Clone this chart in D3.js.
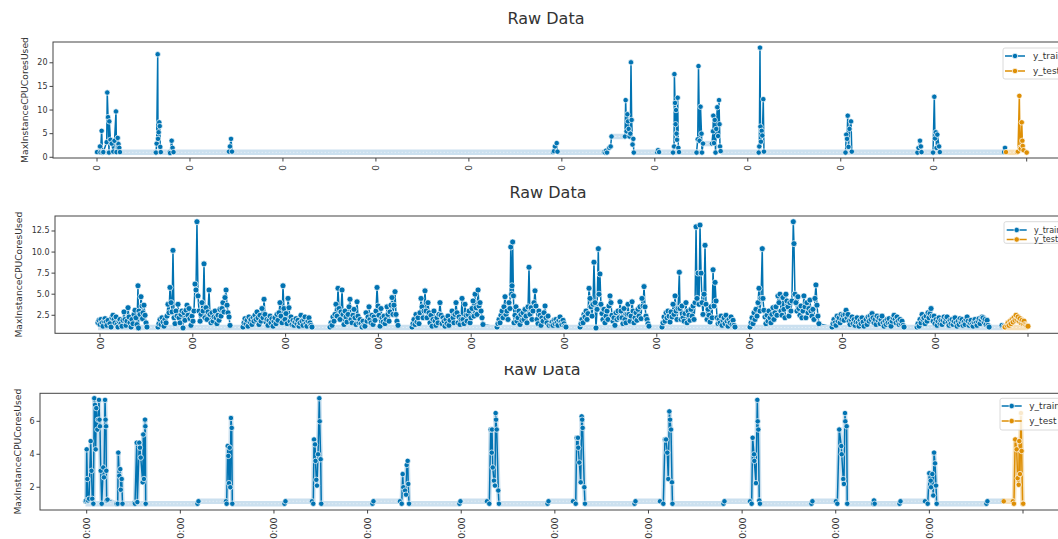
<!DOCTYPE html>
<html><head><meta charset="utf-8">
<script src="https://cdn.jsdelivr.net/npm/d3@7"></script>
<style>
body{margin:0;background:#fff}
svg{display:block}
text{font-family:"DejaVu Sans",sans-serif;fill:#333}
</style>
</head><body>
<svg id="c" width="1058" height="539"></svg>
<script>
// ---------- DATA (x = hour index, y = MaxInstanceCPUCoresUsed) ----------
const tickHours = [0,96,192,288,384,480,576,672,768,864,960];
const xLabels1 = ["0","0","0","0","0","0","0","0","0","0",""];
const xLabels2 = ["00","00","00","00","00","00","00","00","00","00",""];
const xLabels3 = ["00:00","00:00","00:00","00:00","00:00","00:00","00:00","00:00","00:00","00:00",""];
const yTicks1 = [0,5,10,15,20];
const yTicks2 = [2.5,5,7.5,10,12.5];
const yTicks3 = [2,4,6];
const seriesNames = ["y_train","y_test"];

// Panel 1
const train1 = [[0,1.1],[3.1,2.3],[3.6,1.05],[4.8,5.6],[5.7,1.0],[6.5,1.1],[10.0,3.2],[10.6,13.7],[11.4,8.5],[12.4,1.0],[12.7,7.6],[13.9,3.7],[15.2,2.9],[16.8,1.2],[18.1,3.5],[19.6,9.7],[20.1,1.1],[21.4,4.1],[22.2,2.8],[23.0,2.0],[23.7,1.1],
[60.4,1.1],[60.9,1.0],[61.6,2.9],[62.7,21.8],[63.0,3.9],[63.7,5.3],[64.3,7.4],[64.8,6.6],[65.3,2.2],[65.9,1.1],
[74.9,1.1],[75.4,0.9],[77.1,3.5],[78.0,2.0],[79.0,1.1],
[136.3,1.2],[137.3,2.3],[138.4,3.9],[139.4,1.2],
[470.9,1.1],[471.9,1.3],[472.9,2.3],[474.7,3.0],[475.5,1.2],
[523.5,1.1],[524.6,1.0],[525.6,1.4],[526.6,1.0],[529.0,2.0],[530.4,2.3],[531.3,4.4],[545.2,4.4],[545.9,12.1],[546.8,5.5],[547.6,9.1],[548.3,7.6],[549.0,6.0],[549.9,4.4],[550.7,5.0],[551.4,20.1],[552.1,7.9],[553.0,2.7],[553.8,3.9],[554.3,1.0],
[578.3,1.1],[579.3,1.5],[580.4,1.1],
[594.8,1.0],[595.9,2.3],[596.2,17.6],[596.9,11.5],[597.4,7.0],[597.9,10.0],[598.4,5.0],[598.9,3.7],[599.6,12.6],[600.3,2.0],[601.0,1.1],
[619.1,1.0],[620.3,3.8],[621.1,19.3],[622.2,3.5],[623.2,10.7],[624.2,5.0],[624.7,1.0],[625.8,2.9],[635.0,2.9],[636.1,5.5],[636.4,8.8],[637.1,3.0],[637.9,7.9],[638.7,1.0],[639.4,6.0],[640.5,10.6],[641.3,4.5],[642.3,12.1],[642.8,7.0],[643.3,2.3],[644.0,1.3],
[683.3,1.0],[683.9,2.3],[684.6,23.2],[685.1,6.5],[685.6,3.3],[686.4,5.6],[687.0,4.6],[688.0,12.3],[688.7,1.2],
[772.9,1.0],[773.7,4.8],[774.5,3.9],[775.2,8.8],[776.0,2.2],[777.0,6.0],[778.6,7.6],[779.4,1.2],
[847.2,1.0],[848.3,2.0],[849.8,3.5],[850.7,2.3],[851.4,1.1],
[863.3,1.0],[864.6,12.8],[865.3,4.0],[866.1,5.3],[866.9,2.0],[867.7,4.8],[869.5,2.3],[870.3,1.1],
[936.6,1.1],[937.6,2.0]];
const test1 = [[938.6,1.1],[950.0,1.1],[951.0,1.2],[952.4,13.0],[953.1,2.0],[953.8,1.8],[954.9,7.4],[955.5,3.5],[955.9,2.4],[956.7,1.5],[960.0,1.0]];
const base1Train = [[0,470.9,1.05],[475.5,529.0,1.05],[531.3,545.2,4.4],[554.3,624.7,1.05],[625.8,635.0,2.9],[644.0,937.0,1.05]];
const base1Test = [[938.6,951.0,1.05]];

// Panel 2
const train2 = [[-2.1,1.6],[-1.0,1.9],[0,1.4],[1.0,2.0],[2.1,1.6],[3.1,1.2],[4.1,1.8],[5.2,2.1],[6.2,1.7],[7.2,1.3],[8.3,1.9],[10.3,1.5],[11.4,1.1],[12.4,2.2],[13.4,2.5],[14.5,2.0],[15.5,1.6],[16.6,2.3],[17.6,1.4],[18.6,1.1],[19.7,1.8],[20.7,2.0],[21.7,1.5],[22.8,1.2],[23.8,1.9],[24.8,2.9],[25.9,2.0],[26.9,1.3],[27.9,1.8],[29.0,3.4],[30.0,2.3],[31.0,1.6],[32.1,1.1],[33.1,2.0],[34.1,1.5],[35.2,2.6],[36.2,3.1],[37.2,2.2],[38.3,1.4],[39.3,6.0],[39.8,1.0],[40.3,3.0],[41.4,2.6],[42.4,4.7],[43.4,3.6],[44.0,2.1],[44.5,2.8],[45.5,3.7],[46.6,2.5],[47.6,1.6],[48.6,1.1],
[60.0,1.1],[61.0,1.5],[62.1,2.0],[63.1,1.4],[64.1,2.2],[65.2,1.7],[66.2,1.2],[67.2,2.0],[68.3,1.6],[69.3,2.4],[70.3,3.8],[71.4,2.8],[72.4,5.8],[73.5,4.0],[74.5,2.9],[75.5,10.2],[76.6,2.2],[77.6,1.5],[78.6,3.0],[79.7,2.4],[80.7,3.8],[81.7,2.2],[82.8,1.6],[83.8,2.6],[84.8,3.0],[85.9,1.0],[86.9,2.8],[87.9,1.9],[89.0,3.1],[90.0,3.7],[91.0,2.5],[92.1,3.3],[93.1,2.1],[94.1,1.3],[95.2,2.4],[96.2,1.8],[97.2,3.0],[98.3,6.2],[99.3,5.5],[100.3,13.6],[101.4,4.8],[102.4,3.0],[103.5,1.8],[104.5,2.6],[105.5,4.0],[106.6,3.0],[107.6,8.6],[108.6,2.2],[109.7,3.4],[110.7,2.0],[111.7,2.9],[112.8,5.5],[113.8,2.6],[114.8,1.6],[115.9,2.8],[116.9,1.8],[117.9,2.3],[119.0,3.0],[120.0,2.2],[121.0,1.5],[122.1,2.5],[123.1,1.9],[124.1,3.2],[125.2,2.4],[126.2,3.3],[127.2,4.0],[128.3,2.9],[129.3,4.6],[130.4,5.5],[131.4,3.7],[132.4,2.8],[133.5,2.3],[134.5,1.3],
[147.9,1.1],[149.0,1.6],[150.0,2.1],[151.0,1.5],[152.1,1.9],[153.1,1.2],[154.1,2.3],[155.2,1.7],[156.2,2.0],[157.2,1.4],[158.3,2.2],[159.3,1.8],[160.3,2.5],[161.4,2.0],[162.4,2.9],[163.5,2.2],[164.5,1.4],[165.5,2.5],[166.6,1.8],[167.6,3.3],[168.6,2.2],[169.7,4.4],[170.7,2.6],[171.7,1.7],[172.8,2.0],[173.8,1.3],[174.8,1.9],[175.9,2.4],[176.9,1.6],[177.9,2.1],[179.0,1.2],[180.0,1.8],[181.0,2.2],[182.1,1.5],[183.1,2.6],[184.1,1.9],[185.2,2.8],[186.2,4.0],[187.2,2.4],[188.3,1.6],[189.3,6.0],[190.3,3.3],[191.4,2.0],[192.4,2.7],[193.5,1.5],[194.5,4.5],[195.5,3.4],[196.6,1.8],[197.6,2.3],[198.6,1.4],[199.7,1.9],[200.7,1.3],[201.7,1.7],[202.8,2.1],[203.8,1.5],[204.8,1.9],[205.9,1.2],[206.9,1.6],[207.9,2.5],[209.0,1.8],[210.0,1.3],[211.0,2.0],[212.1,2.3],[213.1,1.5],[214.1,1.2],[215.2,1.8],[216.2,2.2],[217.2,1.6],[218.3,1.3],[219.3,1.1],
[237.9,1.1],[239.0,1.6],[240.0,1.3],[241.0,2.3],[242.1,1.8],[243.1,2.6],[244.1,3.8],[245.2,2.4],[246.2,5.7],[247.3,3.3],[248.3,2.0],[249.3,2.9],[250.4,5.5],[251.4,2.6],[252.4,1.4],[253.5,3.0],[254.5,2.3],[255.5,1.7],[256.6,2.6],[257.6,3.5],[258.6,4.4],[259.7,2.0],[260.7,1.6],[261.7,2.5],[262.8,3.2],[263.8,2.2],[264.8,1.4],[265.9,4.1],[266.9,2.4],[267.9,1.6],[269.0,2.0],[270.0,1.5],[271.1,1.1],[272.1,1.8],[273.1,1.3],[274.1,1.2],[275.2,2.8],[276.2,1.8],[277.3,2.3],[278.3,3.5],[279.3,2.0],[280.3,1.6],[281.4,2.5],[282.4,1.4],[283.4,2.3],[284.5,1.9],[285.5,3.0],[286.6,5.8],[287.6,3.6],[288.6,2.5],[289.7,1.2],[290.7,3.3],[291.7,2.2],[292.8,1.7],[293.8,2.4],[294.8,1.5],[295.9,2.0],[296.9,3.5],[297.9,2.6],[299.0,1.8],[300.0,2.9],[301.0,3.7],[302.1,4.6],[303.1,2.6],[304.1,3.7],[305.2,5.3],[306.2,2.6],[307.2,1.8],[308.3,1.3],
[322.8,1.1],[323.8,1.5],[324.8,2.0],[325.9,1.4],[326.9,2.6],[327.9,1.7],[329.0,2.2],[330.0,1.5],[331.0,2.8],[332.1,4.5],[333.1,3.5],[334.2,2.2],[335.2,3.0],[336.2,5.4],[337.3,3.0],[338.3,2.2],[339.3,4.0],[340.4,2.8],[341.4,1.6],[342.4,2.5],[343.5,1.2],[344.5,2.0],[345.5,3.0],[346.6,1.8],[347.6,1.3],[348.6,2.2],[349.7,1.6],[350.7,2.6],[351.7,4.0],[352.8,2.5],[353.8,1.5],[354.8,2.2],[355.9,1.8],[356.9,1.2],[357.9,2.0],[359.0,1.5],[360.0,2.4],[361.0,1.3],[362.1,1.9],[364.2,3.0],[365.2,2.2],[366.2,1.6],[367.3,2.6],[368.3,4.0],[369.3,2.8],[370.4,1.6],[371.4,2.3],[372.4,1.4],[373.5,2.0],[374.5,4.5],[375.5,2.0],[376.6,1.5],[377.6,3.8],[378.7,2.5],[379.7,1.8],[380.7,2.6],[381.8,3.0],[382.8,1.6],[383.8,2.2],[384.9,3.3],[385.9,4.2],[386.9,2.4],[388.0,5.0],[389.0,3.4],[390.0,2.6],[391.1,5.5],[392.1,3.6],[393.1,4.0],[394.2,3.0],[395.2,2.2],[396.2,1.4],
[410.7,1.1],[411.7,1.5],[412.8,2.0],[413.8,1.6],[414.8,2.5],[415.9,3.0],[416.9,2.2],[417.9,3.5],[419.0,4.7],[420.0,2.6],[421.0,3.0],[422.1,2.0],[423.1,4.0],[424.1,3.3],[424.9,10.6],[425.7,5.0],[426.2,6.0],[426.9,11.2],[427.7,4.8],[428.3,1.6],[429.3,2.5],[430.3,3.5],[431.3,1.8],[432.4,2.2],[433.4,3.0],[434.5,1.4],[435.5,2.6],[436.5,1.9],[437.6,2.8],[438.6,2.0],[439.7,3.2],[440.7,2.4],[441.7,1.6],[442.8,3.5],[443.8,8.2],[444.8,2.6],[445.9,3.4],[446.9,2.0],[447.9,3.0],[449.0,4.0],[450.0,5.4],[451.0,3.6],[452.1,2.0],[453.1,1.5],[454.1,3.0],[455.2,2.5],[456.2,1.3],[457.2,2.2],[458.3,1.8],[459.3,2.8],[460.4,3.6],[461.4,2.2],[462.4,1.6],[463.5,2.4],[464.5,1.3],[466.6,1.4],[467.6,1.7],[468.6,1.3],[469.7,1.9],[470.7,1.5],[471.7,2.0],[472.8,1.6],[473.8,1.3],[474.8,1.9],[475.9,2.3],[476.9,1.7],[477.9,1.4],[479.0,1.9],[480.0,1.5],[481.0,1.2],[482.1,1.1],
[496.6,1.1],[497.6,1.5],[498.6,2.0],[499.7,1.6],[500.7,2.6],[501.7,2.3],[502.8,3.0],[503.8,2.0],[504.8,2.7],[505.9,5.7],[506.9,4.5],[507.9,3.5],[509.0,2.4],[510.0,3.8],[511.0,8.8],[512.1,4.0],[513.1,1.0],[514.2,3.2],[515.5,10.4],[516.2,5.0],[517.2,7.4],[518.2,3.8],[519.3,2.7],[520.3,2.0],[521.4,3.2],[522.4,1.6],[523.4,2.4],[524.5,3.0],[525.5,2.0],[526.5,3.6],[527.6,4.8],[528.6,4.0],[529.6,2.5],[530.7,1.8],[531.7,2.2],[532.7,1.3],[533.8,2.8],[534.8,2.0],[535.9,3.0],[536.9,2.2],[537.9,4.1],[539.0,3.0],[540.0,2.2],[541.0,1.5],[542.1,3.3],[543.1,2.0],[544.1,1.6],[545.2,2.6],[546.2,3.8],[547.2,2.6],[548.3,1.8],[549.3,2.4],[550.4,4.1],[551.4,3.0],[552.4,1.6],[553.5,2.2],[554.5,2.8],[555.5,1.9],[556.6,3.2],[557.6,2.4],[558.6,3.5],[559.7,2.1],[560.7,4.5],[561.7,3.6],[562.8,5.9],[563.8,3.5],[564.8,2.4],[565.9,2.0],[566.9,1.5],[567.9,1.2],
[581.4,1.1],[582.4,1.6],[583.5,2.3],[584.5,1.8],[585.6,2.8],[586.6,2.2],[587.6,3.0],[588.7,2.4],[589.7,1.7],[590.7,2.9],[591.8,2.3],[592.8,3.8],[593.8,2.6],[594.9,4.8],[595.9,3.0],[596.9,2.0],[598.0,3.3],[599.3,7.6],[600.0,3.3],[601.1,2.0],[602.1,3.6],[603.1,2.2],[604.2,1.8],[605.2,2.7],[606.2,4.0],[607.3,1.6],[608.3,3.0],[609.3,2.5],[610.4,1.9],[611.4,3.2],[612.5,2.4],[613.5,3.6],[614.5,2.0],[615.6,4.0],[616.6,13.0],[617.6,4.5],[618.7,7.5],[619.7,3.8],[620.7,13.2],[621.8,7.5],[622.8,4.0],[623.8,2.6],[624.9,5.0],[625.9,10.8],[626.9,3.8],[628.0,2.0],[629.0,3.2],[630.0,2.5],[631.1,1.7],[632.1,3.5],[633.2,2.2],[634.2,7.9],[635.2,3.6],[636.3,6.4],[637.3,4.2],[638.3,2.2],[639.4,1.5],[640.4,2.0],[641.4,1.6],[642.5,2.4],[643.5,1.3],[644.5,1.9],[645.6,2.2],[646.6,1.5],[647.6,2.5],[648.7,1.8],[649.7,1.2],[650.7,2.0],[651.8,1.6],[652.8,2.3],[653.8,1.4],[654.9,1.9],[655.9,1.3],[656.9,1.1],
[672.4,1.1],[673.5,1.6],[674.5,2.2],[675.5,1.5],[676.6,2.8],[677.6,2.0],[678.6,3.2],[679.7,2.4],[680.7,4.0],[681.7,5.7],[682.8,3.0],[683.8,4.5],[685.1,10.4],[685.8,4.5],[686.8,3.1],[687.9,2.3],[688.9,1.5],[690.0,2.5],[691.0,1.8],[692.0,3.0],[693.1,2.2],[694.1,1.6],[695.1,2.6],[696.2,3.4],[697.2,2.0],[698.2,2.8],[699.3,3.5],[700.3,2.5],[701.3,4.8],[702.4,4.0],[703.4,5.0],[704.4,3.0],[705.5,2.5],[706.5,4.6],[707.5,3.2],[708.6,2.2],[709.6,5.0],[710.6,4.2],[711.7,3.5],[712.7,2.4],[713.7,4.0],[714.8,3.0],[715.8,4.2],[717.2,13.6],[717.9,11.0],[718.9,5.0],[719.9,4.0],[721.0,3.0],[722.0,4.7],[723.0,3.3],[724.1,2.5],[725.1,3.6],[726.1,2.2],[727.2,3.0],[728.2,4.8],[729.3,3.5],[730.3,2.2],[731.3,4.0],[732.4,2.8],[733.4,3.3],[734.4,4.3],[735.5,3.0],[736.5,2.4],[737.5,3.2],[738.6,2.0],[739.6,4.5],[740.6,6.1],[741.7,3.7],[742.7,2.4],[743.7,1.5],
[757.3,1.1],[758.3,1.5],[759.3,2.0],[760.4,1.6],[761.4,1.3],[762.5,2.4],[763.5,1.8],[764.5,2.2],[765.6,1.6],[766.6,2.6],[767.6,2.0],[768.7,2.5],[769.7,1.9],[770.7,2.6],[771.8,3.1],[772.8,2.2],[773.8,2.6],[774.9,1.8],[775.9,1.4],[776.9,2.0],[778.0,2.3],[779.0,1.5],[780.1,2.0],[781.1,1.3],[782.1,1.7],[783.2,2.2],[784.2,1.6],[785.2,1.2],[786.3,1.9],[787.3,1.5],[788.3,2.2],[789.4,1.7],[790.4,1.2],[792.5,2.0],[793.5,1.4],[794.5,2.3],[795.6,1.8],[796.6,2.4],[797.6,2.0],[798.7,2.7],[799.7,2.2],[800.7,1.6],[801.8,2.0],[802.8,1.4],[803.8,2.4],[804.9,1.9],[805.9,2.2],[807.0,1.5],[808.0,2.0],[809.0,2.4],[810.1,1.6],[811.1,1.2],[812.1,1.8],[813.2,1.4],[814.2,2.0],[815.2,1.6],[816.3,2.1],[817.3,1.5],[818.3,1.2],[819.4,1.8],[820.4,2.2],[821.4,2.5],[822.5,2.0],[823.5,1.6],[824.5,2.3],[825.6,1.8],[826.6,1.4],[827.6,2.0],[828.7,1.5],[829.7,1.8],[830.8,1.3],[831.8,1.1],
[845.2,1.1],[846.2,1.5],[847.3,1.2],[848.3,2.0],[849.3,1.6],[850.4,2.6],[851.4,2.0],[852.4,2.2],[853.5,1.5],[854.5,2.4],[855.6,1.8],[856.6,2.8],[857.6,2.2],[858.7,2.7],[859.7,3.3],[860.7,2.4],[861.8,1.8],[862.8,2.4],[863.8,1.5],[864.9,2.0],[865.9,1.3],[866.9,1.8],[868.0,2.2],[869.0,1.5],[870.0,1.9],[871.1,1.4],[872.1,1.9],[873.2,2.3],[874.2,1.7],[875.2,2.1],[876.3,2.3],[877.3,1.6],[878.3,1.3],[879.4,1.9],[880.4,1.5],[881.4,2.0],[882.5,1.4],[883.5,1.8],[884.5,2.2],[885.6,1.6],[886.6,1.2],[887.7,1.8],[888.7,1.4],[889.7,2.1],[890.8,1.7],[891.8,2.0],[892.8,1.3],[893.9,1.7],[894.9,1.4],[895.9,2.0],[897.0,2.3],[898.0,1.8],[899.0,1.3],[900.1,1.6],[901.1,1.9],[902.1,1.4],[903.2,1.2],[904.2,1.7],[905.2,2.0],[906.3,1.6],[907.3,1.3],[908.4,1.8],[909.4,2.1],[910.4,1.5],[911.5,2.0],[912.5,2.3],[913.5,2.2],[914.6,1.7],[915.6,2.0],[916.6,1.4],[917.7,1.9],[918.7,1.3],[919.8,1.1],
[933.1,1.3],[935.2,1.2]];
const test2 = [[936.2,1.1],[938.3,1.3],[939.3,1.6],[940.4,1.3],[941.4,1.8],[942.4,1.5],[943.5,2.0],[944.5,1.7],[945.5,2.2],[946.6,1.9],[947.6,2.5],[948.6,2.0],[949.7,2.3],[950.7,1.8],[951.7,2.1],[952.8,1.6],[953.8,1.9],[954.9,1.5],[955.9,1.8],[956.9,1.4],[958.0,1.3],[959.0,1.2],[960.0,1.2]];
const base2Train = [[-2.1,935.2,1.05]];
const base2Test = [[936.2,960.0,1.05]];

// Panel 3
const train3 = [[-1.2,1.15],[-0.5,1.2],[0,4.3],[0.6,2.5],[1.3,1.2],[2.4,1.3],[4.1,4.8],[4.9,3.0],[5.7,1.3],[6.8,1.0],[7.8,7.4],[8.5,7.0],[9.2,4.3],[9.8,6.8],[10.9,5.5],[11.6,6.1],[12.6,7.3],[13.1,6.1],[13.6,5.7],[14.4,3.0],[15.4,1.0],[17.0,3.2],[17.7,2.6],[18.8,7.3],[19.3,6.1],[19.8,5.7],[20.1,3.0],[20.5,1.2],[21.3,1.25],
[30.6,1.0],[31.8,1.0],[32.4,4.1],[33.4,2.7],[34.4,3.1],[34.9,1.85],[35.9,2.5],[36.7,1.0],
[48.8,1.05],[49.5,1.0],[51.3,4.7],[51.9,1.1],[53.9,4.7],[54.6,4.4],[55.4,3.8],[57.4,2.3],[58.0,5.2],[58.7,2.5],[59.8,6.1],[60.1,5.7],[60.5,1.0],
[113.6,1.0],[114.6,1.15],[142.8,1.15],[143.5,1.0],[144.6,4.5],[145.2,3.9],[145.9,2.25],[146.6,4.4],[147.2,2.0],[147.9,6.2],[148.7,5.6],[149.3,1.0],
[202.8,1.0],[203.8,1.15],[231.0,1.15],[232.3,1.0],[233.1,4.9],[234.1,4.6],[234.6,3.6],[235.4,2.45],[236.1,2.1],[237.2,4.0],[238.5,7.4],[238.9,6.0],[239.9,3.7],[240.5,1.0],
[293.0,1.0],[294.0,1.15],[321.2,1.15],[323.0,1.0],[324.0,2.8],[324.6,2.0],[326.4,1.8],[327.4,1.55],[328.1,3.35],[329.1,3.6],[329.7,2.2],[330.5,1.0],
[382.2,1.0],[383.2,1.15],[410.4,1.15],[412.8,1.0],[414.2,5.5],[415.3,4.1],[415.6,5.5],[416.3,3.2],[417.6,2.4],[418.6,2.1],[419.3,6.5],[419.7,6.1],[420.4,5.5],[422.0,1.8],[422.7,1.0],
[472.5,1.0],[473.5,1.15],[498.6,1.15],[501.4,1.0],[502.4,5.0],[503.7,5.0],[504.0,4.4],[505.1,3.5],[506.5,2.3],[507.5,6.3],[508.0,6.1],[508.5,5.6],[510.2,2.0],[510.9,1.0],
[561.7,1.0],[562.7,1.15],[587.8,1.15],[591.2,1.0],[592.9,4.9],[594.0,4.9],[595.3,4.1],[596.3,2.5],[597.4,6.6],[598.1,6.1],[599.1,5.5],[600.1,2.3],[600.6,1.0],
[652.9,1.0],[653.9,1.15],[680.1,1.15],[681.8,1.0],[682.8,5.0],[684.2,4.0],[684.5,3.6],[686.2,2.25],[687.6,7.3],[688.0,6.0],[688.6,5.5],[689.6,1.2],[690.3,1.0],
[743.1,1.0],[744.1,1.15],[768.2,1.15],[769.6,1.0],[771.6,5.5],[773.7,4.5],[774.1,4.0],[775.7,2.5],[776.4,2.2],[777.5,6.5],[777.8,6.0],[779.2,5.7],[779.8,1.0],
[806.5,1.0],[807.2,1.2],[807.9,1.0],[833.4,1.0],[834.4,1.15],[859.5,1.15],[862.3,1.0],[863.9,2.85],[865.4,2.4],[865.7,2.0],[867.0,2.8],[868.0,1.5],[868.8,4.1],[869.8,3.45],[870.8,2.1],[871.5,1.0],
[922.5,1.0],[923.5,1.15],[939.5,1.15]];
const test3 = [[940.3,1.15],[949.6,1.15],[950.7,1.0],[952.0,4.9],[953.5,4.3],[954.5,2.55],[955.6,2.15],[956.2,4.8],[956.9,2.8],[957.9,6.5],[958.6,4.2],[959.6,1.0],[960.2,1.0]];
const base3Train = [[-1.2,113.6,1.0],[114.6,142.8,1.15],[149.3,202.8,1.0],[203.8,231.0,1.15],[240.5,293.0,1.0],[294.0,321.2,1.15],[330.5,382.2,1.0],[383.2,410.4,1.15],[422.7,472.5,1.0],[473.5,498.6,1.15],[510.9,561.7,1.0],[562.7,587.8,1.15],[600.6,652.9,1.0],[653.9,680.1,1.15],[690.3,743.1,1.0],[744.1,768.2,1.15],[779.8,833.4,1.0],[834.4,859.5,1.15],[871.5,922.5,1.0],[923.5,939.5,1.15]];
const base3Test = [[940.3,949.6,1.15]];

// ---------- LAYOUT ----------
const BLUE = "#0173b2", ORANGE = "#de8f05";
const BLUE_BAND = "#cbe0ef", ORANGE_BAND = "#f6dfb6";

const panels = [
  {train:train1, test:test1, bTrain:base1Train, bTest:base1Test, yTicks:yTicks1, yFmt:d3.format("d"), xLabels:xLabels1,
   x0:97, x10:1026.7, left:53, right:1077, top:42, bottom:158, yDom:[-0.15,24.4], r:2.7, halo:false,
   titleX:546, titleY:24, clipY:[0,176], ylabX:24, xFont:9, xOff:7,
   leg:{x:1003, y:48, h:31, rows:[56,71], hx:1005, tx:1033, font:9}},
  {train:train2, test:test2, bTrain:base2Train, bTest:base2Test, yTicks:yTicks2, yFmt:d3.format(".1f"), xLabels:xLabels2,
   x0:100, x10:1028, left:55, right:1075, top:216, bottom:333.3, yDom:[0.36,14.28], r:3.0, halo:false,
   titleX:548, titleY:198, clipY:[176,354], ylabX:18, xFont:9.5, xOff:4,
   leg:{x:1004, y:221.7, h:21.6, rows:[230,239.5], hx:1006.7, tx:1034, font:8}},
  {train:train3, test:test3, bTrain:base3Train, bTest:base3Test, yTicks:yTicks3, yFmt:d3.format("d"), xLabels:xLabels3,
   x0:86.7, x10:1023, left:40, right:1070, top:393.3, bottom:510, yDom:[0.62,7.7], r:2.7, halo:true,
   titleX:542, titleY:375, clipY:[366,539], ylabX:17, xFont:9.5, xOff:7.5,
   leg:{x:1000, y:398.3, h:31.7, rows:[406,421], hx:1001.7, tx:1029.3, font:9}}
];

const svg = d3.select("#c");
const defs = svg.append("defs");

panels.forEach((p, i) => {
  const x = d3.scaleLinear().domain([tickHours[0], tickHours[tickHours.length-1]]).range([p.x0, p.x10]);
  const y = d3.scaleLinear().domain(p.yDom).range([p.bottom, p.top]);

  defs.append("clipPath").attr("id","fig"+i).append("rect")
    .attr("x",0).attr("y",p.clipY[0]).attr("width",1058).attr("height",p.clipY[1]-p.clipY[0]);
  defs.append("clipPath").attr("id","ax"+i).append("rect")
    .attr("x",p.left).attr("y",p.top).attr("width",p.right-p.left).attr("height",p.bottom-p.top);

  const g = svg.append("g").attr("clip-path","url(#fig"+i+")");

  g.append("text").attr("x",p.titleX).attr("y",p.titleY).attr("text-anchor","middle")
    .style("font-size","16px").text("Raw Data");

  const plot = g.append("g").attr("clip-path","url(#ax"+i+")");
  const line = d3.line().x(d=>x(d[0])).y(d=>y(d[1]));

  [[p.train,p.bTrain,BLUE,BLUE_BAND],[p.test,p.bTest,ORANGE,ORANGE_BAND]].forEach(([data,bands,col,bcol])=>{
    if (p.halo) {
      plot.append("path").datum(data).attr("d",line).attr("fill","none")
        .attr("stroke",bcol).attr("stroke-width",4.5).attr("stroke-linejoin","round");
    }
    plot.append("path").datum(data).attr("d",line).attr("fill","none")
      .attr("stroke",col).attr("stroke-width",1.5).attr("stroke-linejoin","round");
    plot.selectAll(null).data(bands).enter().append("line")
      .attr("x1",d=>x(d[0])).attr("x2",d=>x(d[1])).attr("y1",d=>y(d[2])).attr("y2",d=>y(d[2]))
      .attr("stroke",bcol).attr("stroke-width",5.5);
    plot.selectAll(null).data(bands).enter().append("line")
      .attr("x1",d=>x(d[0])).attr("x2",d=>x(d[1])).attr("y1",d=>y(d[2])).attr("y2",d=>y(d[2]))
      .attr("stroke","#ffffff").attr("stroke-width",1).attr("stroke-dasharray","1.5 2").attr("opacity",0.45);
    plot.selectAll(null).data(data).enter().append("circle")
      .attr("cx",d=>x(d[0])).attr("cy",d=>y(d[1])).attr("r",p.r)
      .attr("fill",col).attr("stroke","#fff").attr("stroke-width",0.7);
  });

  g.append("rect").attr("x",p.left).attr("y",p.top).attr("width",p.right-p.left).attr("height",p.bottom-p.top)
    .attr("fill","none").attr("stroke","#444").attr("stroke-width",1);

  p.yTicks.forEach(t=>{
    g.append("line").attr("x1",p.left-3.5).attr("x2",p.left).attr("y1",y(t)).attr("y2",y(t)).attr("stroke","#444");
    g.append("text").attr("x",p.left-5.5).attr("y",y(t)).attr("text-anchor","end")
      .attr("dominant-baseline","central").style("font-size","8px").text(p.yFmt(t));
  });
  tickHours.forEach((t,k)=>{
    g.append("line").attr("x1",x(t)).attr("x2",x(t)).attr("y1",p.bottom).attr("y2",p.bottom+3.5).attr("stroke","#444");
    g.append("text").attr("transform",`translate(${x(t)},${p.bottom+p.xOff}) rotate(-90)`)
      .attr("text-anchor","end").attr("dominant-baseline","central")
      .style("font-size",p.xFont+"px").text(p.xLabels[k]);
  });
  g.append("text").attr("transform",`translate(${p.ylabX},${(p.top+p.bottom)/2}) rotate(-90)`)
    .attr("text-anchor","middle").attr("dominant-baseline","central")
    .style("font-size","9.2px").text("MaxInstanceCPUCoresUsed");

  const L = p.leg;
  g.append("rect").attr("x",L.x).attr("y",L.y).attr("width",90).attr("height",L.h).attr("rx",2)
    .attr("fill","#fff").attr("fill-opacity",0.8).attr("stroke","#d0d0d0").attr("stroke-width",0.8);
  [BLUE,ORANGE].forEach((col,k)=>{
    const ry = L.rows[k];
    g.append("line").attr("x1",L.hx).attr("x2",L.hx+20).attr("y1",ry).attr("y2",ry).attr("stroke",col).attr("stroke-width",1.5);
    g.append("circle").attr("cx",L.hx+10).attr("cy",ry).attr("r",2.7).attr("fill",col).attr("stroke","#fff").attr("stroke-width",0.7);
    g.append("text").attr("x",L.tx).attr("y",ry).attr("dominant-baseline","central")
      .style("font-size",L.font+"px").text(seriesNames[k]);
  });
});
</script>
</body></html>
